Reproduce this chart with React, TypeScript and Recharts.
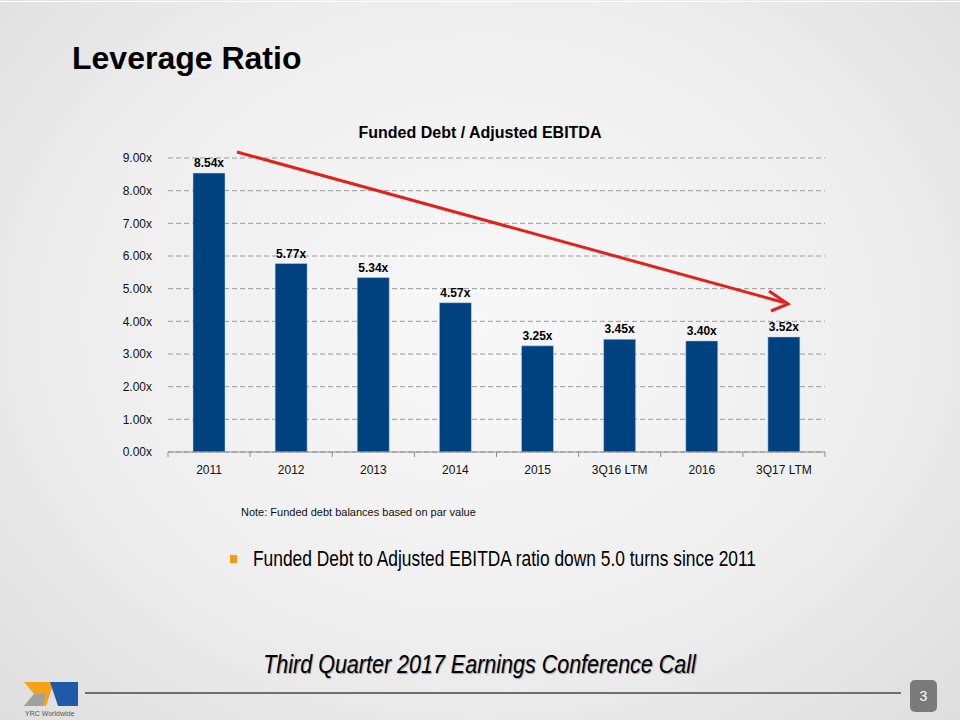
import React from 'react';
import { BarChart, Bar, XAxis, YAxis, CartesianGrid, LabelList } from 'recharts';

const categories = ['2011', '2012', '2013', '2014', '2015', '3Q16 LTM', '2016', '3Q17 LTM'];
const ratios = [8.54, 5.77, 5.34, 4.57, 3.25, 3.45, 3.4, 3.52];
const yTicks = [0, 1, 2, 3, 4, 5, 6, 7, 8, 9];

const data = categories.map((name, i) => ({ name, value: ratios[i] }));

const BAND = 82.1;

function XTick(props: any) {
  const { x, y, payload, index } = props;
  const last = index === categories.length - 1;
  return (
    <g>
      <line x1={x - BAND / 2} y1={y - 8} x2={x - BAND / 2} y2={y - 3} stroke="#8c8c8c" />
      {last && <line x1={x + BAND / 2} y1={y - 8} x2={x + BAND / 2} y2={y - 3} stroke="#8c8c8c" />}
      <text x={x} y={y + 14} textAnchor="middle" fontSize={12} fill="#111" fontFamily="Liberation Sans, Arial, sans-serif">
        {payload.value}
      </text>
    </g>
  );
}

export default function App() {
  return (
    <div
      style={{
        position: 'absolute',
        left: 0,
        top: 0,
        width: 960,
        height: 720,
        overflow: 'hidden',
        background: 'radial-gradient(ellipse at 50% 45%, #f8f8f8 0%, #efefef 55%, #dedede 100%)',
        fontFamily: 'Liberation Sans, Arial, sans-serif',
      }}
    >
      <div style={{ position: 'absolute', left: 0, top: 1, width: 960, height: 1, background: '#fff' }} />
      <div style={{ position: 'absolute', left: 72, top: 40, fontSize: 32, fontWeight: 'bold', color: '#000' }}>
        Leverage Ratio
      </div>
      <div style={{ position: 'absolute', left: 0, width: 960, top: 124, textAlign: 'center', fontSize: 16, fontWeight: 'bold', color: '#000' }}>
        Funded Debt / Adjusted EBITDA
      </div>

      <div style={{ position: 'absolute', left: 100, top: 150 }}>
        <BarChart width={740} height={340} data={data} margin={{ top: 8, right: 15, bottom: 8, left: 0 }} barCategoryGap={0}>
          <CartesianGrid vertical={false} stroke="#9a9a9a" strokeDasharray="5 3" />
          <XAxis
            dataKey="name"
            axisLine={{ stroke: '#8c8c8c' }}
            tickLine={false}
            tick={<XTick />}
            height={30}
            interval={0}
          />
          <YAxis
            domain={[0, 9]}
            ticks={yTicks}
            width={68}
            axisLine={false}
            tickLine={false}
            tickFormatter={(v: number) => v.toFixed(2) + 'x'}
            tick={{ fontSize: 12, fill: '#111' }}
            tickMargin={10}
          />
          <Bar dataKey="value" fill="#00427f" stroke="#c9d6e6" strokeWidth={0.5} barSize={32} isAnimationActive={false}>
            <LabelList
              dataKey="value"
              position="top"
              offset={6}
              formatter={(v: number) => v.toFixed(2) + 'x'}
              style={{ fontSize: 12, fontWeight: 'bold', fill: '#000' }}
            />
          </Bar>
        </BarChart>
      </div>

      <svg style={{ position: 'absolute', left: 0, top: 0 }} width={960} height={720}>
        <line x1={237} y1={152} x2={784} y2={302.5} stroke="#e3211c" strokeWidth={3} />
        <polyline points="769,291 788,304 771,311" fill="none" stroke="#e3211c" strokeWidth={3} strokeLinejoin="miter" />
      </svg>

      <div style={{ position: 'absolute', left: 241, top: 506, fontSize: 11, color: '#111' }}>
        Note: Funded debt balances based on par value
      </div>

      <div style={{ position: 'absolute', left: 230, top: 555, width: 7, height: 8, background: '#f39b1b' }} />
      <div
        style={{
          position: 'absolute',
          left: 253,
          top: 546,
          fontSize: 22,
          color: '#000',
          whiteSpace: 'nowrap',
          transform: 'scaleX(0.79)',
          transformOrigin: '0 0',
        }}
      >
        Funded Debt to Adjusted EBITDA ratio down 5.0 turns since 2011
      </div>

      <div style={{ position: 'absolute', left: 0, width: 960, top: 650, textAlign: 'center' }}>
        <span
          style={{
            display: 'inline-block',
            fontSize: 25,
            fontStyle: 'italic',
            color: '#000',
            whiteSpace: 'nowrap',
            transform: 'scaleX(0.86)',
            textShadow: '1px 1px 1px #999',
          }}
        >
          Third Quarter 2017 Earnings Conference Call
        </span>
      </div>

      <div style={{ position: 'absolute', left: 85, top: 692, width: 816, height: 2, background: '#6e6e6e' }} />
      <div
        style={{
          position: 'absolute',
          left: 910,
          top: 680,
          width: 27,
          height: 32,
          borderRadius: 5,
          background: '#7a7a7a',
          color: '#fff',
          fontSize: 14,
          textAlign: 'center',
          lineHeight: '32px',
        }}
      >
        3
      </div>

      <svg style={{ position: 'absolute', left: 24, top: 681 }} width={56} height={38}>
        <polygon points="0,1 30,1 22,25 0,25 10,13" fill="#f5a21b" />
        <polygon points="26,1 54,1 54,25 34,25" fill="#1f5aa8" />
        <polygon points="10,13 22,13 18,25 0,25" fill="#a0a0a0" />
        <text x={1} y={35} fontSize={7} fill="#555" fontFamily="Liberation Sans, Arial, sans-serif">YRC Worldwide</text>
      </svg>
    </div>
  );
}
